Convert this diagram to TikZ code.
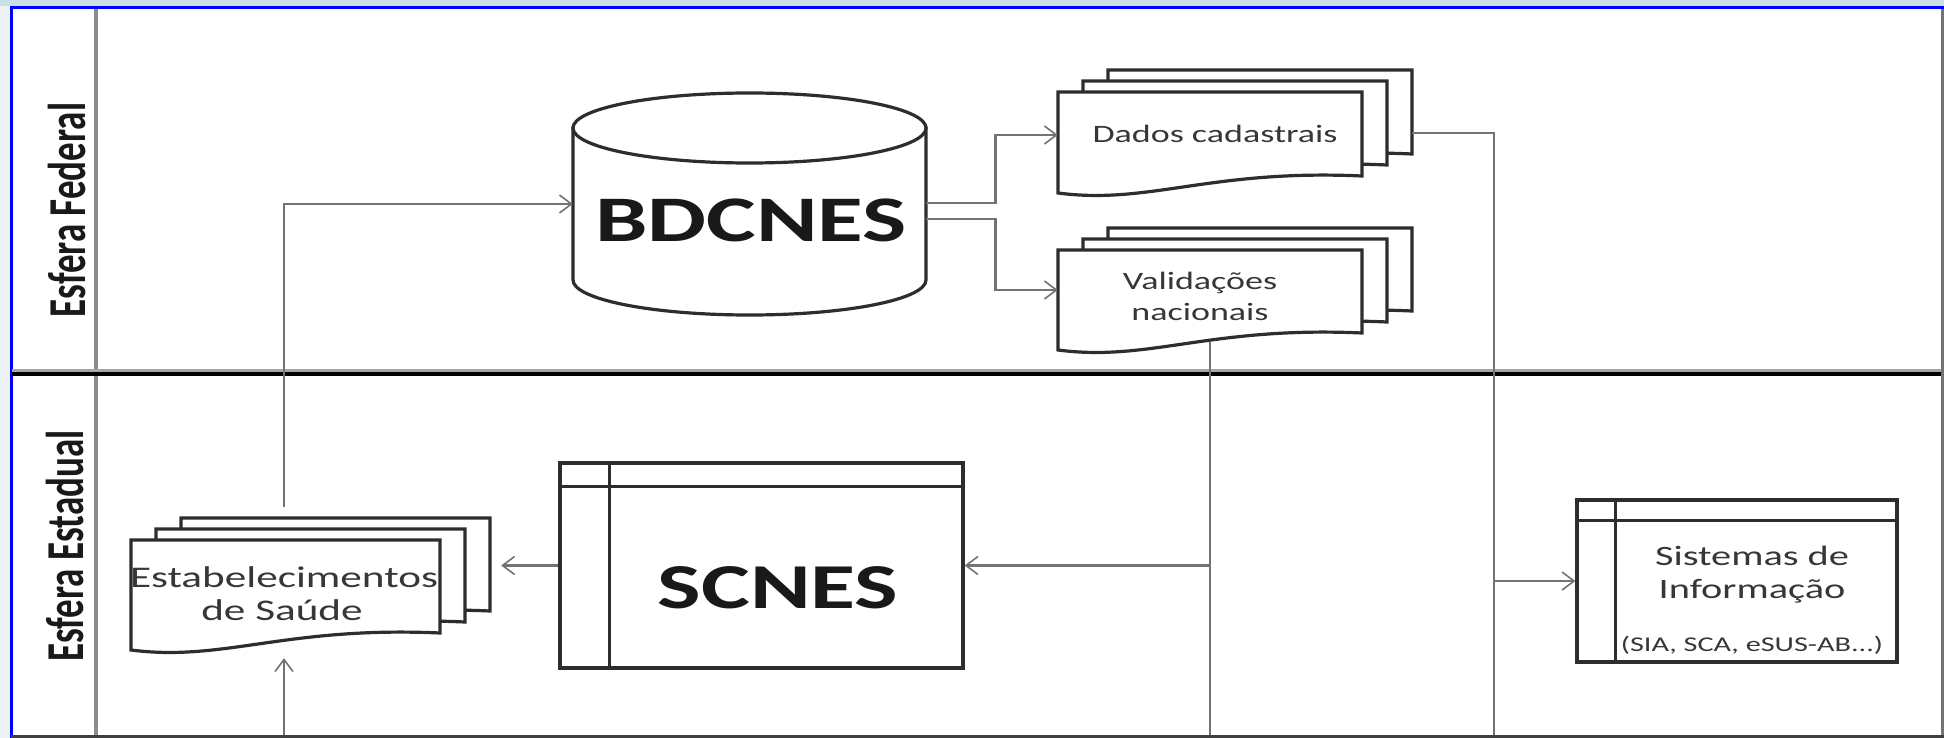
\documentclass[tikz,border=0pt]{standalone}
\usepackage{fontspec}
\setmainfont{Carlito}
\usetikzlibrary{arrows.meta,calc}
\definecolor{frameblue}{RGB}{0,0,255}
\definecolor{bgteal}{RGB}{200,224,230}
\definecolor{bgleft}{RGB}{236,242,244}
\definecolor{laneline}{RGB}{140,140,140}
\definecolor{connc}{RGB}{115,115,115}
\definecolor{shapeline}{RGB}{45,45,45}
\definecolor{txt}{RGB}{25,25,25}
\definecolor{txtsmall}{RGB}{55,55,55}
\newcommand\sx[1]{\scalebox{1.44}[1]{#1}}
\newcommand\onedoc[5]{% L T R BL BR
  \pgfmathsetmacro\dw{(#3)-(#1)}
  \filldraw[shp] (#1,#2) -- (#3,#2) -- (#3,#5)
    .. controls (#1+0.5*\dw,#5-7) and (#1+0.3*\dw,#4+12) .. (#1,#4) -- cycle;
}
\newcommand\mdoc[4]{% L T R H
  \onedoc{#1+50}{#2-22}{#3+50}{#2+#4-22}{#2+#4-17-22}
  \onedoc{#1+25}{#2-11}{#3+25}{#2+#4-11}{#2+#4-17-11}
  \onedoc{#1}{#2}{#3}{#2+#4}{#2+#4-17}
}
\begin{document}
\begin{tikzpicture}[x=1pt,y=-1pt,
  shp/.style={draw=shapeline,line width=3.2pt,fill=white,line join=miter},
  conn/.style={draw=connc,line width=2.8pt},
  arr/.style={conn,-{Straight Barb[length=12pt,width=18pt,line width=1.6pt]}},
  anchorbox/.style={draw=none,inner sep=0pt},
  lbl/.style={text=txt,inner sep=0pt,anchor=base},
  small/.style={lbl,text=txtsmall},
]
\useasboundingbox (0,0) rectangle (1944,738);
% background and frame
\fill[bgleft] (0,0) rectangle (1944,738);
\fill[bgteal] (0,0) rectangle (1944,6);
\fill[white] (12,9) rectangle (1941,735);
\draw[frameblue,line width=3pt] (11,738) -- (11,7.5) -- (1944,7.5);
\draw[black!55,line width=2.5pt] (1942.5,9) -- (1942.5,738);
\draw[black!75,line width=3pt] (11,736.5) -- (1944,736.5);
% lanes
\draw[laneline,line width=4pt] (96,9) -- (96,735);
\draw[black!35,line width=3pt] (12,370.5) -- (1941,370.5);
\draw[black,line width=4.5pt] (12,374) -- (1941,374);
\node[lbl,rotate=90,font=\bfseries\fontsize{37}{40}\selectfont] (fed) at (85,210) {\scalebox{1}[1.44]{Esfera Federal}};
\node[lbl,rotate=90,font=\bfseries\fontsize{37}{40}\selectfont] (estad) at (83,546) {\scalebox{1}[1.44]{Esfera Estadual}};

% anchor boxes
\node[anchorbox,minimum width=353pt,minimum height=222pt] (bd) at (749.5,204) {};
\node[anchorbox,minimum width=304pt,minimum height=86pt] (dados) at (1210,135) {};
\node[anchorbox,minimum width=304pt,minimum height=104pt] (val) at (1210,290) {};
\node[anchorbox,minimum width=434pt,minimum height=151pt] (est) at (284,582.5) {};

% cylinder
\filldraw[shp] (573,128) -- (573,280)
  .. controls (573,299.3) and (652,315) .. (749.5,315)
  .. controls (847,315) and (926,299.3) .. (926,280) -- (926,128) -- cycle;
\draw[shp] (749.5,128) ellipse [x radius=176.5, y radius=35];
\node[lbl,font=\bfseries\fontsize{65}{70}\selectfont] (bdtext) at (751,242) {\sx{BDCNES}};

% documents
\mdoc{1058}{92}{1362}{101}
\node[small,font=\fontsize{25}{30}\selectfont] (dtext) at (1215,143) {\sx{Dados cadastrais}};
\mdoc{1058}{250}{1362}{100}
\node[small,font=\fontsize{25}{30}\selectfont] (vtext1) at (1200,289) {\sx{Validações}};
\node[small,font=\fontsize{25}{30}\selectfont] (vtext2) at (1200,320) {\sx{nacionais}};
\mdoc{131}{540}{440}{110}
\node[small,font=\fontsize{30}{34}\selectfont] (etext1) at (284,587) {\sx{Estabelecimentos}};
\node[small,font=\fontsize{30}{34}\selectfont] (etext2) at (282,620) {\sx{de Saúde}};

% SCNES box
\node[shp,minimum width=403pt,minimum height=205pt,inner sep=0pt] (scnes) at (761.5,565.5) {};
\draw[shp] ([yshift=-25pt]scnes.north west) -- ([yshift=-25pt]scnes.north east);
\draw[shp] ([xshift=51pt]scnes.north west) -- ([xshift=51pt]scnes.south west);
\node[lbl,font=\bfseries\fontsize{64}{70}\selectfont] (sctext) at (778,608) {\sx{SCNES}};

% Sistemas box
\node[shp,minimum width=320pt,minimum height=162pt,inner sep=0pt] (sis) at (1737,581) {};
\draw[shp] ([yshift=-22pt]sis.north west) -- ([yshift=-22pt]sis.north east);
\draw[shp] ([xshift=40pt]sis.north west) -- ([xshift=40pt]sis.south west);
\node[small,font=\fontsize{28}{32}\selectfont] (stext1) at (1752,565) {\sx{Sistemas de}};
\node[small,font=\fontsize{28}{32}\selectfont] (stext2) at (1752,598) {\sx{Informação}};
\node[small,font=\fontsize{21}{24}\selectfont] (stext3) at (1752,651) {\sx{(SIA, SCA, eSUS-AB...)}};

% bus coordinates at the lower edge
\coordinate (ebus) at (284,735);
\coordinate (vbus) at (1210,735);
\coordinate (dbus) at (1494,735);
\coordinate (dadosR) at ([xshift=50pt,yshift=2pt]dados.east);

% connectors
\draw[arr] (est.north) |- (bd.west);
\draw[arr] ([yshift=1pt]bd.east) -- ++(69,0) |- (dados.west);
\draw[arr] ([yshift=-15pt]bd.east) -- ++(69,0) |- (val.west);
\draw[conn] (dadosR) -| (dbus);
\draw[arr] (dbus |- sis.west) -- (sis.west);
\draw[conn] (val.south) -- (vbus);
\draw[arr] (vbus |- scnes.east) -- (scnes.east);
\draw[arr] (scnes.west) -- (scnes.west -| est.east);
\draw[arr] (ebus) -- (est.south);
\end{tikzpicture}
\end{document}
